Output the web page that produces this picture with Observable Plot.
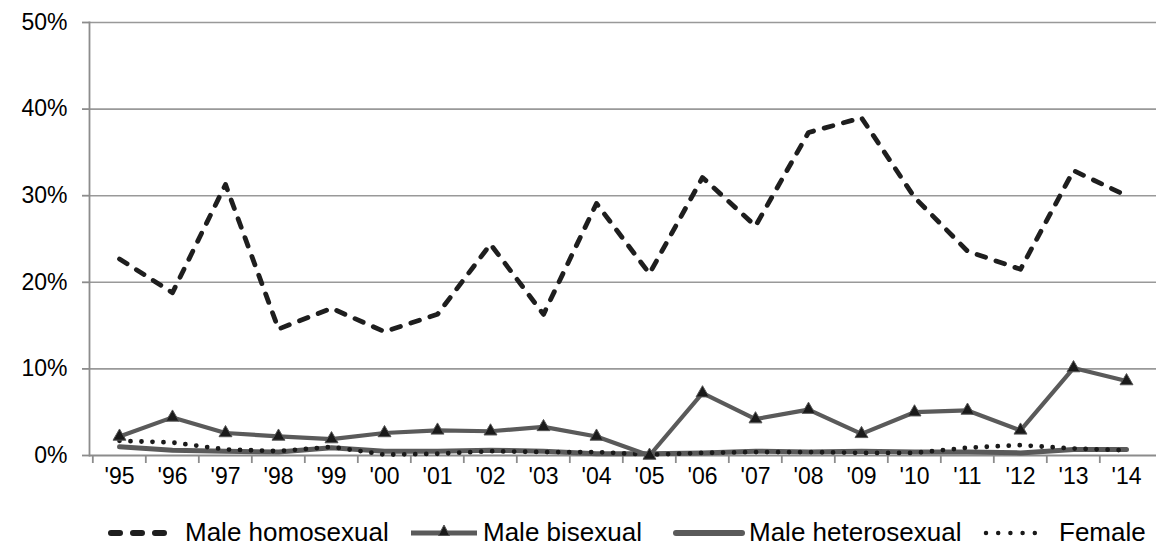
<!DOCTYPE html>
<html>
<head>
<meta charset="utf-8">
<script src="https://cdn.jsdelivr.net/npm/d3@7"></script>
<script src="https://cdn.jsdelivr.net/npm/@observablehq/plot@0.6"></script>
<style>
  html, body { margin: 0; padding: 0; background: #fff; }
  body { width: 1156px; height: 545px; overflow: hidden; font-family: "Liberation Sans", Arial, sans-serif; }
  #chart svg { display: block; overflow: visible; }
  #legend { position: relative; height: 45px; width: 1156px; }
  .sw { position: absolute; top: 19px; height: 26px; }
  .sw svg { display: block; }
  .lt { position: absolute; top: 19px; height: 26px; line-height: 26px; font-size: 26px; color: #000; white-space: nowrap; }
</style>
</head>
<body>
<div id="chart"></div>
<div id="legend"></div>
<script>
const years = ["'95","'96","'97","'98","'99","'00","'01","'02","'03","'04","'05","'06","'07","'08","'09","'10","'11","'12","'13","'14"];
const maleHomosexual   = [22.7, 18.8, 31.3, 14.6, 17.0, 14.3, 16.3, 24.4, 16.3, 29.1, 21.0, 32.1, 26.5, 37.3, 39.0, 29.8, 23.6, 21.5, 32.9, 30.0];
const maleBisexual     = [2.2, 4.4, 2.6, 2.2, 1.9, 2.6, 2.9, 2.8, 3.3, 2.2, 0.0, 7.2, 4.2, 5.3, 2.5, 5.0, 5.2, 2.9, 10.1, 8.6];
const maleHeterosexual = [1.0, 0.6, 0.5, 0.4, 0.9, 0.5, 0.5, 0.6, 0.5, 0.2, 0.2, 0.3, 0.5, 0.4, 0.5, 0.4, 0.4, 0.3, 0.7, 0.7];
const female           = [1.7, 1.5, 0.7, 0.5, 1.0, 0.1, 0.2, 0.5, 0.4, 0.4, 0.1, 0.3, 0.4, 0.4, 0.3, 0.3, 0.9, 1.2, 0.8, 0.6];
const seriesNames = ["Male homosexual", "Male bisexual", "Male heterosexual", "Female"];
const yTicks = [0, 10, 20, 30, 40, 50];

const rows = (vals) => years.map((y, i) => ({year: y, value: vals[i]}));
const W = 1156, H = 500, ML = 89, MR = 0;
const step = (W - ML - MR) / years.length;

const chart = Plot.plot({
  width: W,
  height: H,
  marginTop: 22,
  marginBottom: 45,
  marginLeft: ML,
  marginRight: MR,
  style: {fontFamily: "'Liberation Sans', Arial, sans-serif", fontSize: "23px", color: "#000", background: "#fff"},
  x: {type: "point", domain: years, padding: 0.5, label: null},
  y: {domain: [0, 50], label: null},
  marks: [
    Plot.ruleY(yTicks.filter(d => d > 0), {stroke: "#999", strokeWidth: 1.6}),
    Plot.ruleY([0], {stroke: "#8c8c8c", strokeWidth: 1.8}),
    Plot.frame({anchor: "left", stroke: "#8c8c8c", strokeWidth: 1.8}),
    Plot.axisY({ticks: yTicks, tickSize: 7, tickPadding: 15, tickFormat: d => d + "%", stroke: "#8c8c8c", strokeWidth: 1.8, fill: "#000", label: null, fontSize: 23}),
    Plot.axisX({tickSize: 8, tickFormat: () => "", dx: -step / 2, stroke: "#8c8c8c", strokeWidth: 1.8, label: null}),
    Plot.axisX({tickSize: 0, tickPadding: 12, fill: "#000", label: null, fontSize: 23}),
    Plot.line(rows(maleHeterosexual), {x: "year", y: "value", stroke: "#5a5a5a", strokeWidth: 5}),
    Plot.line(rows(female), {x: "year", y: "value", stroke: "#1a1a1a", strokeWidth: 4.8, strokeDasharray: "0,11", strokeLinecap: "round"}),
    Plot.line(rows(maleBisexual), {x: "year", y: "value", stroke: "#5a5a5a", strokeWidth: 4.2}),
    Plot.dot(rows(maleBisexual), {x: "year", y: "value", symbol: "triangle", r: 4.8, fill: "#1a1a1a", stroke: "#555", strokeWidth: 1}),
    Plot.line(rows(maleHomosexual), {x: "year", y: "value", stroke: "#1e1e1e", strokeWidth: 4.8, strokeDasharray: "9,11", strokeLinecap: "round"})
  ]
});
document.getElementById("chart").appendChild(chart);

// Legend
const legend = document.getElementById("legend");
const swatchLefts = [107, 409, 673, 983];
const textLefts = [185, 483, 749, 1059];
const swatches = [
  `<svg width="66" height="26"><line x1="4" y1="14" x2="64" y2="14" stroke="#1e1e1e" stroke-width="6" stroke-linecap="round" stroke-dasharray="9,13"/></svg>`,
  `<svg width="70" height="26"><line x1="2" y1="14" x2="68" y2="14" stroke="#5a5a5a" stroke-width="5"/><path d="M35,6 L40.5,16.5 L29.5,16.5 Z" fill="#1a1a1a" stroke="#555" stroke-width="1"/></svg>`,
  `<svg width="72" height="26"><line x1="3" y1="14" x2="69" y2="14" stroke="#5a5a5a" stroke-width="6" stroke-linecap="round"/></svg>`,
  `<svg width="68" height="26"><line x1="3" y1="14" x2="64" y2="14" stroke="#1a1a1a" stroke-width="4.5" stroke-linecap="round" stroke-dasharray="0,12.2"/></svg>`
];
seriesNames.forEach((name, i) => {
  const sw = document.createElement("div");
  sw.className = "sw";
  sw.style.left = swatchLefts[i] + "px";
  sw.innerHTML = swatches[i];
  legend.appendChild(sw);
  const t = document.createElement("div");
  t.className = "lt";
  t.style.left = textLefts[i] + "px";
  t.textContent = name;
  legend.appendChild(t);
});
</script>
</body>
</html>
